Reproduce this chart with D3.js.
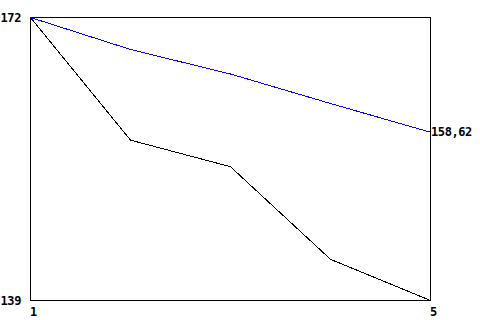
<!DOCTYPE html>
<html><head><meta charset="utf-8">
<script src="https://cdn.jsdelivr.net/npm/d3@7"></script>
<style>body{margin:0;background:#fff}svg{display:block}text{font-family:"DejaVu Sans Mono",monospace;font-weight:bold;font-size:12px;letter-spacing:-0.4px;fill:#000}</style>
</head><body>
<script>
const xValues = [1, 2, 3, 4, 5];
const blueSeries = [172, 168.27, 165.41, 161.97, 158.62];
const blackSeries = [172, 157.7, 154.6, 143.8, 139];
const yTickLabels = ["172", "139"];
const xTickLabels = ["1", "5"];
const endLabel = "158,62";

const W = 480, H = 320;
const svg = d3.select("body").append("svg").attr("width", W).attr("height", H);
const x = d3.scaleLinear().domain([1, 5]).range([30.5, 430.5]);
const y = d3.scaleLinear().domain([139, 172]).range([300.5, 17.5]);

svg.append("rect").attr("x", 30.5).attr("y", 17.5).attr("width", 400).attr("height", 283)
  .attr("fill", "none").attr("stroke", "#000").attr("stroke-width", 1);

const line = d3.line().x((d, i) => x(xValues[i])).y(d => y(d));
svg.append("path").datum(blackSeries).attr("d", line).attr("fill", "none")
  .attr("stroke", "#000").attr("stroke-width", 1).attr("shape-rendering", "crispEdges");
svg.append("path").datum(blueSeries).attr("d", line).attr("fill", "none")
  .attr("stroke", "#0000ff").attr("stroke-width", 1).attr("shape-rendering", "crispEdges");

svg.selectAll(".yl").data(yTickLabels).enter().append("text")
  .attr("x", 21).attr("y", d => y(+d)).attr("text-anchor", "end").attr("dy", "0.35em").text(d => d);
svg.selectAll(".xl").data(xTickLabels).enter().append("text")
  .attr("x", d => x(+d) + 3).attr("y", 312).attr("text-anchor", "middle").attr("dy", "0.35em").text(d => d);
svg.append("text").attr("x", 431).attr("y", y(blueSeries[4])).attr("dy", "0.35em").text(endLabel);
</script>
</body></html>
